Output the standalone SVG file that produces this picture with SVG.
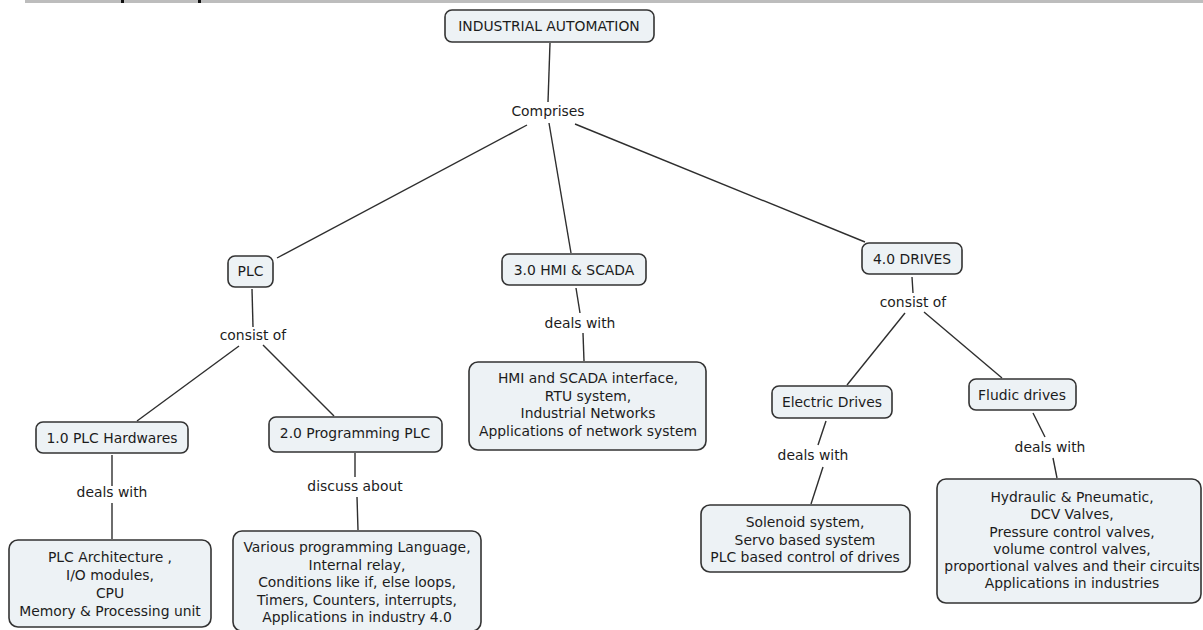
<svg xmlns="http://www.w3.org/2000/svg" width="1203" height="630" viewBox="0 0 1203 630">
  <style>
    .node rect { fill: #edf2f5; stroke: #333; stroke-width: 1.6; }
    text { font-family: "DejaVu Sans", Verdana, sans-serif; font-size: 13.9px; fill: #1c1c1c; text-anchor: middle; }
    #connectors line { stroke: #2e2e2e; stroke-width: 1.4; }
  </style>
  <rect width="1203" height="630" fill="#ffffff"/>
  <!-- header strip -->
  <rect x="25" y="0" width="1178" height="3" fill="#bdbdbd"/>
  <rect x="121" y="0" width="3" height="3" fill="#111"/>
  <rect x="198" y="0" width="3" height="3" fill="#111"/>

  <g id="connectors">
    <line x1="550" y1="43" x2="548" y2="102"/>
    <line x1="527" y1="125" x2="277" y2="258"/>
    <line x1="549" y1="123" x2="571" y2="253"/>
    <line x1="575" y1="124" x2="865" y2="242"/>
    <line x1="252" y1="289" x2="253" y2="327"/>
    <line x1="239" y1="346" x2="137" y2="421"/>
    <line x1="263" y1="345" x2="334" y2="416"/>
    <line x1="112" y1="455" x2="112" y2="486"/>
    <line x1="112" y1="503" x2="112" y2="539"/>
    <line x1="355" y1="453" x2="355" y2="477"/>
    <line x1="357" y1="497" x2="358" y2="530"/>
    <line x1="576" y1="288" x2="580" y2="313"/>
    <line x1="583" y1="333" x2="584" y2="361"/>
    <line x1="912" y1="277" x2="913" y2="293"/>
    <line x1="905" y1="313" x2="847" y2="385"/>
    <line x1="924" y1="312" x2="1002" y2="378"/>
    <line x1="826" y1="421" x2="818" y2="445"/>
    <line x1="823" y1="467" x2="811" y2="504"/>
    <line x1="1033" y1="413" x2="1045" y2="437"/>
    <line x1="1053" y1="458" x2="1057" y2="478"/>
  </g>

  <g id="industrial-automation" class="node">
    <rect x="445" y="10" width="209" height="32" rx="7"/>
    <text x="549" y="31">INDUSTRIAL AUTOMATION</text>
  </g>
  <g id="comprises"><text x="548" y="116">Comprises</text></g>

  <g id="plc" class="node">
    <rect x="228" y="256" width="45" height="31" rx="7"/>
    <text x="250.5" y="276">PLC</text>
  </g>
  <g id="plc-consist"><text x="253" y="340">consist of</text></g>

  <g id="plc-hardwares" class="node">
    <rect x="36" y="422" width="152" height="31" rx="7"/>
    <text x="112" y="443">1.0 PLC Hardwares</text>
  </g>
  <g id="hw-deals"><text x="112" y="497">deals with</text></g>
  <g id="hw-topics" class="node">
    <rect x="9" y="540" width="202" height="87" rx="9"/>
    <text x="110" y="562">PLC Architecture ,</text>
    <text x="110" y="580">I/O modules,</text>
    <text x="110" y="598">CPU</text>
    <text x="110" y="616">Memory &amp; Processing unit</text>
  </g>

  <g id="programming-plc" class="node">
    <rect x="269" y="417" width="173" height="35" rx="7"/>
    <text x="355" y="438">2.0 Programming PLC</text>
  </g>
  <g id="prog-discuss"><text x="355" y="491">discuss about</text></g>
  <g id="prog-topics" class="node">
    <rect x="233" y="531" width="248" height="100" rx="9"/>
    <text x="357" y="552">Various programming Language,</text>
    <text x="357" y="569.5">Internal relay,</text>
    <text x="357" y="587">Conditions like if, else loops,</text>
    <text x="357" y="604.5">Timers, Counters, interrupts,</text>
    <text x="357" y="622">Applications in industry 4.0</text>
  </g>

  <g id="hmi-scada" class="node">
    <rect x="502" y="254" width="144" height="31" rx="7"/>
    <text x="574" y="275">3.0 HMI &amp; SCADA</text>
  </g>
  <g id="hmi-deals"><text x="580" y="328">deals with</text></g>
  <g id="hmi-topics" class="node">
    <rect x="469" y="362" width="237" height="88" rx="9"/>
    <text x="588" y="383">HMI and SCADA interface,</text>
    <text x="588" y="400.5">RTU system,</text>
    <text x="588" y="418">Industrial Networks</text>
    <text x="588" y="435.5">Applications of network system</text>
  </g>

  <g id="drives" class="node">
    <rect x="862" y="243" width="100" height="31" rx="7"/>
    <text x="912" y="264">4.0 DRIVES</text>
  </g>
  <g id="drives-consist"><text x="913" y="307">consist of</text></g>

  <g id="electric-drives" class="node">
    <rect x="772" y="386" width="120" height="32" rx="7"/>
    <text x="832" y="407">Electric Drives</text>
  </g>
  <g id="electric-deals"><text x="813" y="460">deals with</text></g>
  <g id="electric-topics" class="node">
    <rect x="701" y="505" width="209" height="67" rx="9"/>
    <text x="805" y="527">Solenoid system,</text>
    <text x="805" y="544.5">Servo based system</text>
    <text x="805" y="562">PLC based control of drives</text>
  </g>

  <g id="fludic-drives" class="node">
    <rect x="969" y="379" width="107" height="31" rx="7"/>
    <text x="1022" y="400">Fludic drives</text>
  </g>
  <g id="fludic-deals"><text x="1050" y="452">deals with</text></g>
  <g id="fludic-topics" class="node">
    <rect x="937" y="479" width="264" height="124" rx="9"/>
    <text x="1072" y="502">Hydraulic &amp; Pneumatic,</text>
    <text x="1072" y="519">DCV Valves,</text>
    <text x="1072" y="536.5">Pressure control valves,</text>
    <text x="1072" y="553.5">volume control valves,</text>
    <text x="1072" y="571">proportional valves and their circuits</text>
    <text x="1072" y="588">Applications in industries</text>
  </g>
</svg>
